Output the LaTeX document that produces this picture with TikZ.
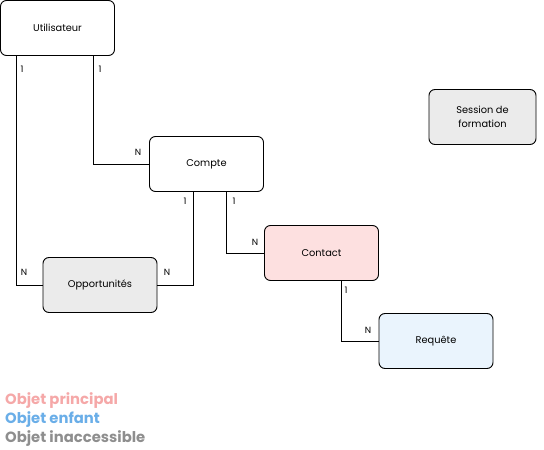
\documentclass[tikz,border=0pt]{standalone}
\usepackage{fontspec}
\setmainfont{Poppins}
\begin{document}
\begin{tikzpicture}[x=1pt,y=-1pt,
  box/.style={draw=black,line width=0.9pt,rounded corners=6pt,minimum width=114pt,minimum height=55pt,inner sep=0pt,align=center,font=\fontsize{9.8}{14}\selectfont},
  card/.style={font=\fontsize{9}{10}\selectfont,inner sep=0pt},
  link/.style={draw=black,line width=0.8pt},
  leg/.style={font=\bfseries\fontsize{14.8}{16}\selectfont,anchor=west,inner sep=0pt}]
\useasboundingbox (0,0) rectangle (544,450);
\definecolor{grayfill}{HTML}{EBEBEB}
\definecolor{pinkfill}{HTML}{FDE0E0}
\definecolor{bluefill}{HTML}{EAF4FD}
\definecolor{pinktext}{HTML}{F5A8A8}
\definecolor{bluetext}{HTML}{6AAEE8}
\definecolor{graytext}{HTML}{8E8E8E}
\node[box,fill=white] (u) at (57.5,28) {Utilisateur};
\node[box,fill=white] (c) at (206.5,164) {Compte};
\node[box,fill=grayfill] (o) at (100,285) {Opportunités};
\node[box,fill=pinkfill] (ct) at (321.5,253) {Contact};
\node[box,fill=bluefill] (r) at (436,341) {Requête};
\node[box,fill=grayfill,minimum width=107pt] (s) at (482.5,117) {Session de\\formation};
\draw[link] (u.south -| 16,0) |- (o.west);
\draw[link] (u.south -| 93,0) |- (c.west);
\draw[link] (c.south -| 193,0) |- (o.east);
\draw[link] (c.south -| 226,0) |- (ct.west);
\draw[link] (ct.south -| 341,0) |- (r.west);
\node[card] (l1) at (22,69) {1};
\node[card] (l2) at (24,272) {N};
\node[card] (l3) at (100,69) {1};
\node[card] (l4) at (138,152) {N};
\node[card] (l5) at (185,201) {1};
\node[card] (l6) at (167,272) {N};
\node[card] (l7) at (234,201) {1};
\node[card] (l8) at (255,242) {N};
\node[card] (l9) at (346,290) {1};
\node[card] (l10) at (368,330) {N};
\node[leg,text=pinktext] (g1) at (5,401) {Objet principal};
\node[leg,text=bluetext] (g2) at (5,420) {Objet enfant};
\node[leg,text=graytext] (g3) at (5,439) {Objet inaccessible};
\end{tikzpicture}
\end{document}
